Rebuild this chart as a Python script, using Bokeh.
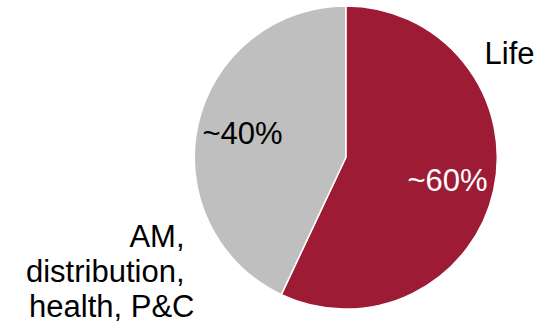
import math

from bokeh.core.properties import value
from bokeh.embed import file_html
from bokeh.models import ColumnDataSource, Range1d
from bokeh.plotting import figure
from bokeh.resources import INLINE

# Business mix
segments = ["Life", "AM, distribution, health, P&C"]
shares = [57, 43]
share_labels = ["~60%", "~40%"]
segment_colors = ["#9E1B36", "#BFBFBF"]
share_label_colors = ["white", "black"]
name_lines = [["Life"], ["AM,", "distribution,", "health, P&C"]]

W, H = 554, 332
FONT = value("Liberation Sans")
SIZE = value("31px")
SHIFT = 12.5  # baseline correction for the svg text layout

p = figure(width=W, height=H, output_backend="svg", toolbar_location=None,
           x_range=Range1d(0, W), y_range=Range1d(0, H),
           min_border=0, outline_line_color=None)
p.axis.visible = False
p.grid.visible = False
p.background_fill_color = "white"
p.border_fill_color = "white"

# wedges run clockwise from 12 o'clock
total = float(sum(shares))
starts, ends = [], []
angle = math.pi / 2
for s in shares:
    starts.append(angle)
    angle -= 2 * math.pi * s / total
    ends.append(angle)

pie = ColumnDataSource(dict(segment=segments, share=shares, start=starts,
                            end=ends, color=segment_colors))
cx, cy, r = 345.3, H - 157.0, 151.5
p.wedge(x=cx, y=cy, radius=r, start_angle="start", end_angle="end",
        direction="clock", fill_color="color", line_color="white",
        line_width=1.5, source=pie)


def ypix(v):
    return H - (v - SHIFT)


# share labels inside the slices
share_pos = [(407, ypix(192.3)), (202, ypix(145.7))]
p.text(x=[pt[0] for pt in share_pos], y=[pt[1] for pt in share_pos],
       text=share_labels, text_color=share_label_colors,
       text_font=FONT, text_font_size=SIZE, text_align="left",
       text_baseline="alphabetic")

# segment names outside the pie
p.text(x=[484], y=[ypix(65.7)], text=name_lines[0],
       text_color="black", text_font=FONT, text_font_size=SIZE,
       text_align="left", text_baseline="alphabetic")

other_x = [184, 184, 194]
other_y = [ypix(248.3), ypix(283.3), ypix(318.3)]
p.text(x=other_x, y=other_y, text=name_lines[1], text_color="black",
       text_font=FONT, text_font_size=SIZE, text_align="right",
       text_baseline="alphabetic")

open("out.html", "w").write(file_html(p, INLINE))
